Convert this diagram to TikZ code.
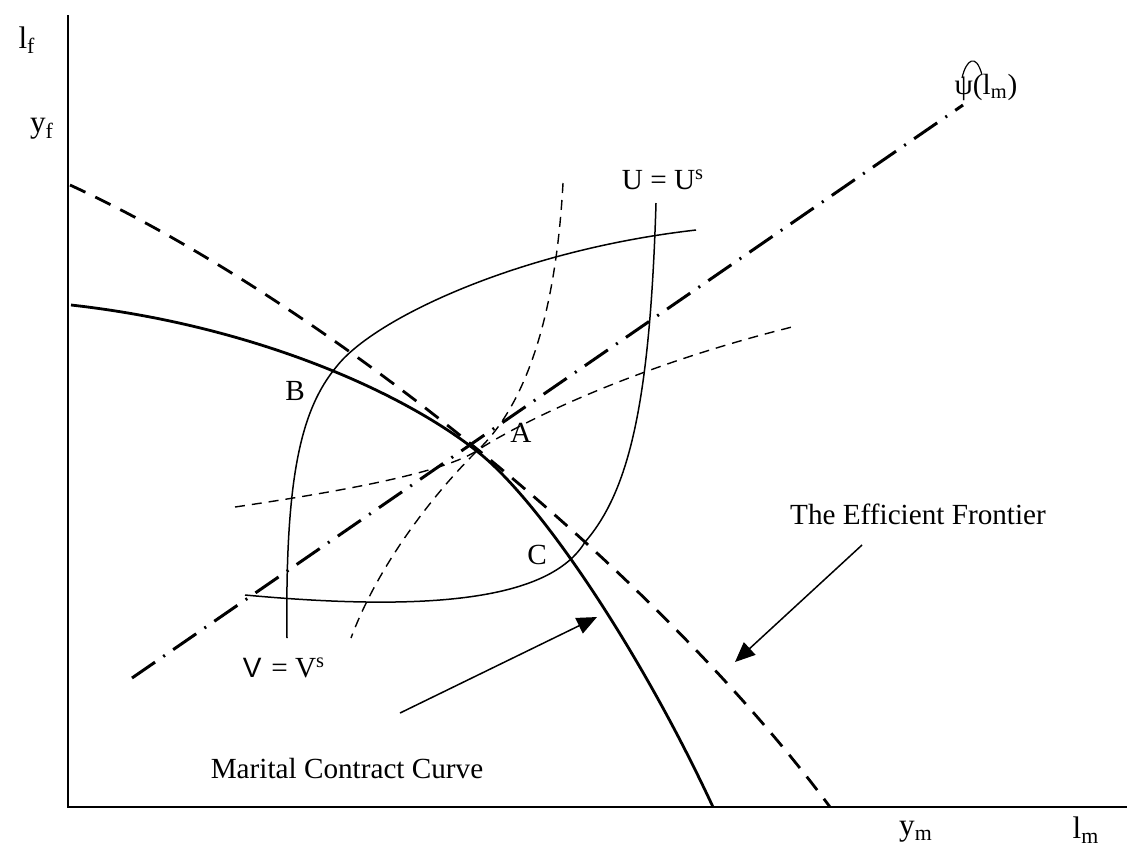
\documentclass[tikz,border=0pt]{standalone}
\usepackage{fontspec}
\setmainfont{Liberation Serif}
\newfontfamily\sansV{Liberation Sans}
\usetikzlibrary{arrows.meta}
\begin{document}
\begin{tikzpicture}[x=0.5pt,y=-0.5pt,
  lbl/.style={inner sep=0pt,font=\fontsize{14.6}{17}\selectfont},
  axlbl/.style={inner sep=0pt,font=\fontsize{15.6}{18}\selectfont},
  axis/.style={line width=0.9pt},
  frontier/.style={line width=1.4pt,dash pattern=on 8.5pt off 5.5pt},
  contract/.style={line width=1.4pt},
  indiff/.style={line width=0.75pt},
  tangent/.style={line width=0.7pt,dash pattern=on 5pt off 3.5pt},
  psiline/.style={line width=1.5pt,dash pattern=on 14pt off 5pt on 1pt off 5pt},
  pointer/.style={line width=0.75pt,-{Triangle[length=10pt,width=8.5pt]}}]
\useasboundingbox (0,0) rectangle (1127,848);
% axes
\coordinate (O) at (68,807);
\coordinate (Ytop) at (68,15);
\coordinate (Xend) at (1127,807);
\draw[axis] (Ytop) -- (O) -- (Xend);
% axis labels
\node[axlbl] (lf) at (27,40) {l\textsubscript{f}};
\node[axlbl] (yf) at (42,129) {y\textsubscript{f}};
\node[axlbl] (ym) at (916,832) {y\textsubscript{m}};
\node[axlbl] (lm) at (1086,830) {l\textsubscript{m}};
% efficient frontier
\draw[frontier] (70,185) .. controls (320,300) and (650,565) .. (830,807);
% marital contract curve
\draw[contract] (71,305) .. controls (250,325) and (400,390) .. (478,452)
  .. controls (540,501) and (640,650) .. (713,807);
% psi line
\coordinate (psiA) at (132,678);
\coordinate (psiB) at (963,105);
\draw[psiline] (psiA) -- (psiB);
% U = U^s indifference curve
\draw[indiff] (656,203) .. controls (650,400) and (630,490) .. (585,542)
  .. controls (550,600) and (430,612) .. (245,595);
% V = V^s indifference curve
\draw[indiff] (287,638) .. controls (285,480) and (300,410) .. (337,366)
  .. controls (375,318) and (520,250) .. (696,230);
% tangent indifference curves through A
\draw[tangent] (563,183) .. controls (555,330) and (520,410) .. (478,450)
  .. controls (440,487) and (380,560) .. (351,638);
\draw[tangent] (235,507) .. controls (350,490) and (445,472) .. (478,450)
  .. controls (510,429) and (620,370) .. (792,327);
% point labels
\node[lbl] (A) at (521,433) {A};
\node[lbl] (B) at (295,391) {B};
\node[lbl] (C) at (537,555) {C};
\node[lbl] (U) at (663,180) {U = U\textsuperscript{s}};
\node[lbl] (V) at (284,668) {{\sansV\fontsize{14}{16}\selectfont V}\,\,= V\textsuperscript{s}};
\node[lbl] (psi) at (986,87) {ψ(l\textsubscript{m})};
\draw[line width=0.6pt] (962,78) .. controls (966,60) and (976,52) .. (982,75);
% annotation labels and pointers
\node[lbl] (EF) at (918,514) {The Efficient Frontier};
\node[lbl] (MC) at (347,768) {Marital Contract Curve};
\coordinate (efs) at (862,545);
\coordinate (eft) at (735,662);
\coordinate (mcs) at (400,713);
\coordinate (mct) at (597,617);
\draw[pointer] (efs) -- (eft);
\draw[pointer] (mcs) -- (mct);
\end{tikzpicture}
\end{document}
